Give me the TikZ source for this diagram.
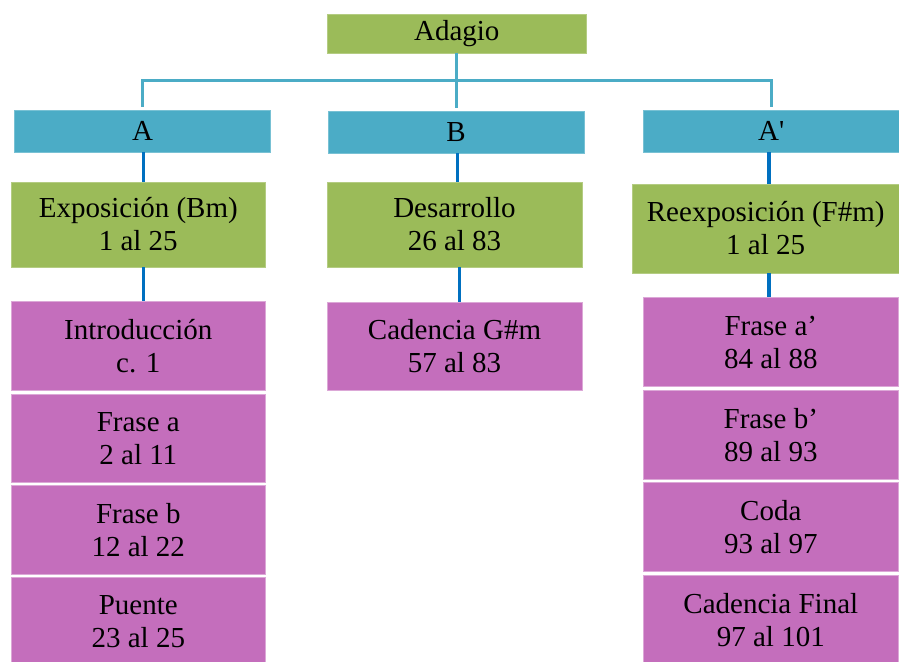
\documentclass[tikz,border=0pt]{standalone}
\usepackage{fontspec}
\setmainfont{Liberation Serif}
\definecolor{grn}{HTML}{9BBB59}
\definecolor{blu}{HTML}{4BACC6}
\definecolor{pnk}{HTML}{C46EBC}
\definecolor{dblu}{HTML}{0070C0}
\begin{document}
\begin{tikzpicture}[x=1pt,y=-1pt,
  box/.style={rectangle, inner sep=0pt, align=center, text=black,
    font=\rmfamily\fontsize{29}{33}\selectfont, line width=0.8pt},
  gbox/.style={box, fill=grn, draw=grn!75!white},
  bbox/.style={box, fill=blu, draw=blu!75!white},
  pbox/.style={box, fill=pnk, draw=pnk!60!white},
  lb/.style={draw=blu, line width=3pt},
  db/.style={draw=dblu, line width=3.4pt}
]
\useasboundingbox (0,0) rectangle (899,661);

% top
\node[gbox, minimum width=259.7pt, minimum height=39pt] (adagio) at (456.8,33.5) {Adagio};

% section boxes
\node[bbox, minimum width=255.6pt, minimum height=42pt] (A) at (142.5,131) {A};
\node[bbox, minimum width=256pt, minimum height=42pt] (B) at (456,132) {B};
\node[bbox, minimum width=256pt, minimum height=42pt] (Ap) at (771.2,131) {A\textquotesingle};

% green second level
\node[gbox, minimum width=254.7pt, minimum height=85pt] (expo) at (138.3,224.5) {Exposición (Bm)\\1 al 25};
\node[gbox, minimum width=255pt, minimum height=85pt] (desa) at (454.5,224.5) {Desarrollo\\26 al 83};
\node[gbox, minimum width=266.7pt, minimum height=89pt] (reex) at (765.7,228.5) {Reexposición (F\#m)\\1 al 25};

% pink left
\node[pbox, minimum width=254.7pt, minimum height=88.3pt] (intro) at (138.3,345.8) {Introducción\\c. 1};
\node[pbox, minimum width=254.7pt, minimum height=88.4pt] (fa) at (138.3,438.5) {Frase a\\2 al 11};
\node[pbox, minimum width=254.7pt, minimum height=88.6pt] (fb) at (138.3,530) {Frase b\\12 al 22};
\node[pbox, minimum width=254.7pt, minimum height=88.5pt] (pue) at (138.3,622) {Puente\\23 al 25};

% pink middle
\node[pbox, minimum width=255pt, minimum height=88pt] (cad) at (454.5,346) {Cadencia G\#m\\57 al 83};

% pink right
\node[pbox, minimum width=255pt, minimum height=89pt] (fap) at (770.8,342.2) {Frase a’\\84 al 88};
\node[pbox, minimum width=255pt, minimum height=88.6pt] (fbp) at (770.8,435) {Frase b’\\89 al 93};
\node[pbox, minimum width=255pt, minimum height=89pt] (coda) at (770.8,527.2) {Coda\\93 al 97};
\node[pbox, minimum width=255pt, minimum height=89pt] (cfin) at (770.8,620.2) {Cadencia Final\\97 al 101};

% light blue connectors
\coordinate (hub) at (456.8,80);
\draw[lb, shorten <=3pt, shorten >=3pt] (A.north) |- (hub) -| (Ap.north);
\draw[lb, shorten >=3pt] (adagio.south) -- (adagio.south |- B.north);

% dark blue connectors
\draw[db] ([xshift=1.2pt]A.south) -- ([xshift=1.2pt]A.south |- expo.north);
\draw[db] ([xshift=5.4pt]expo.south) -- ([xshift=5.4pt]expo.south |- intro.north);
\draw[db] ([xshift=1.3pt]B.south) -- ([xshift=1.3pt]B.south |- desa.north);
\draw[db] ([xshift=4.8pt]desa.south) -- ([xshift=4.8pt]desa.south |- cad.north);
\draw[db] ([xshift=-2.2pt]Ap.south) -- ([xshift=-2.2pt]Ap.south |- reex.north);
\draw[db] ([xshift=3.3pt]reex.south) -- ([xshift=3.3pt]reex.south |- fap.north);
\end{tikzpicture}
\end{document}
